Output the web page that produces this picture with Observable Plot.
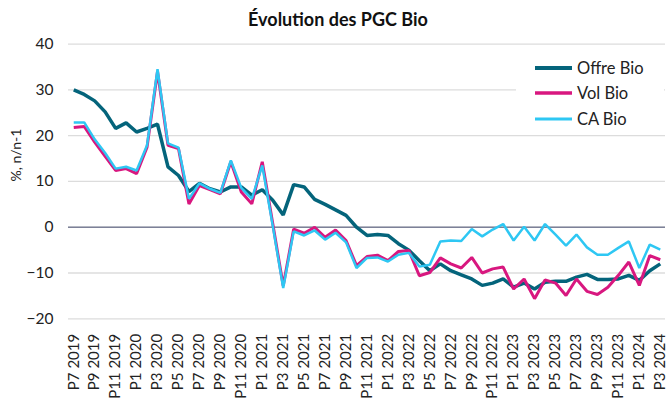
<!DOCTYPE html>
<html><head><meta charset="utf-8">
<script src="https://cdn.jsdelivr.net/npm/d3@7"></script>
<script src="https://cdn.jsdelivr.net/npm/@observablehq/plot@0.6"></script>
<style>
body{margin:0;background:#fff;font-family:Lato,sans-serif;}
#wrap{position:relative;width:668px;height:403px;overflow:hidden;}
#chart{position:absolute;left:0;top:0;}
#title{position:absolute;top:8px;left:0;width:676px;text-align:center;font-weight:bold;font-size:18px;color:#111;}
#legend{position:absolute;left:516px;top:52px;width:148px;height:78px;background:#fff;}
.row{position:absolute;left:0;height:25px;display:flex;align-items:center;font-size:16.5px;color:#222;}
.sw{width:37px;margin-left:19px;margin-right:5px;}
</style></head>
<body>
<div id="wrap">
  <div id="chart"></div>
  <div id="title">Évolution des PGC Bio</div>
  <div id="legend"></div>
</div>
<script>
const periods = [
 "P7 2019","P8 2019","P9 2019","P10 2019","P11 2019","P12 2019",
 "P1 2020","P2 2020","P3 2020","P4 2020","P5 2020","P6 2020","P7 2020","P8 2020","P9 2020","P10 2020","P11 2020","P12 2020",
 "P1 2021","P2 2021","P3 2021","P4 2021","P5 2021","P6 2021","P7 2021","P8 2021","P9 2021","P10 2021","P11 2021","P12 2021",
 "P1 2022","P2 2022","P3 2022","P4 2022","P5 2022","P6 2022","P7 2022","P8 2022","P9 2022","P10 2022","P11 2022","P12 2022",
 "P1 2023","P2 2023","P3 2023","P4 2023","P5 2023","P6 2023","P7 2023","P8 2023","P9 2023","P10 2023","P11 2023","P12 2023",
 "P1 2024","P2 2024","P3 2024"];
const offre = [30.0,29.0,27.6,25.2,21.6,22.8,20.8,21.6,22.5,13.2,11.3,7.8,9.6,8.4,7.7,8.8,8.8,7.0,8.2,5.9,
 2.7,9.3,8.8,6.1,5.0,3.8,2.6,0.0,-1.8,-1.6,-1.8,-3.6,-5.0,-7.3,-9.5,-8.0,-9.5,-10.4,-11.3,-12.7,
 -12.2,-11.3,-13.1,-12.2,-13.5,-12.0,-11.8,-11.8,-10.9,-10.3,-11.4,-11.4,-11.3,-10.5,-11.6,-9.5,-8.0];
const vol = [21.8,22.0,18.6,15.5,12.4,12.8,11.7,17.5,34.0,17.9,17.2,5.1,9.1,8.2,7.3,14.3,7.7,5.1,14.3,0.8,
 -12.8,-0.4,-1.3,0.0,-2.2,-0.6,-2.9,-8.4,-6.4,-6.1,-7.3,-5.3,-5.1,-10.6,-9.9,-6.7,-8.0,-8.9,-6.6,-10.0,
 -9.1,-8.7,-13.5,-11.3,-15.6,-11.5,-12.2,-14.9,-11.3,-14.0,-14.7,-13.1,-10.5,-7.6,-12.7,-6.2,-7.1];
const ca = [22.9,22.9,19.2,16.2,12.8,13.2,12.4,17.9,34.5,18.3,17.4,6.2,9.6,8.4,7.5,14.6,8.6,6.2,13.5,0.3,
 -13.3,-0.9,-1.8,-0.7,-2.7,-1.2,-3.3,-8.9,-6.7,-6.6,-7.5,-6.0,-5.6,-8.6,-8.2,-3.1,-2.9,-3.0,-0.4,-2.0,
 -0.5,0.7,-2.9,0.1,-2.9,0.7,-1.6,-4.0,-1.6,-4.4,-6.0,-6.0,-4.5,-3.1,-8.9,-3.8,-4.9];
const yTicks = [-20,-10,0,10,20,30,40];
const seriesNames = ["Offre Bio","Vol Bio","CA Bio"];
const seriesColors = ["#04647b","#d8177f","#2ec7f3"];
const seriesWidths = [3.5,3,2.5];
const xTicks = periods.filter((d,i)=>i%2===0);

const seriesValues = [offre, vol, ca];
const marks = [
  Plot.gridY(yTicks,{stroke:"#dcdcdc",strokeOpacity:1,strokeWidth:1.3}),
  Plot.ruleY([0],{stroke:"#7d8198",strokeWidth:1.6}),
  Plot.axisY(yTicks,{tickSize:0,tickPadding:15,fontSize:15.5,label:null,fill:"#222"}),
  Plot.axisX(xTicks,{tickSize:0,tickPadding:15,tickRotate:-90,fontSize:15,label:null,fill:"#222"}),
  Plot.text(["%, n/n-1"],{frameAnchor:"left",dx:-52,rotate:-90,fontSize:14,fill:"#222"})
];
seriesNames.forEach((name,k)=>{
  const rows = periods.map((p,i)=>({p, v:seriesValues[k][i]}));
  marks.push(Plot.line(rows,{x:"p",y:"v",stroke:seriesColors[k],strokeWidth:seriesWidths[k],strokeLinejoin:"miter",strokeLinecap:"butt"}));
});

const chart = Plot.plot({
  width:668,height:403,
  marginTop:43.6,marginBottom:84.7,marginLeft:68,marginRight:3,
  style:{fontFamily:"Lato, sans-serif",background:"transparent",color:"#222"},
  x:{type:"point",domain:periods,padding:0.5,round:false,axis:null},
  y:{domain:[-20,40],axis:null},
  marks
});
document.getElementById("chart").appendChild(chart);

const leg = document.getElementById("legend");
seriesNames.forEach((name,k)=>{
  const row = document.createElement("div");
  row.className="row";
  row.style.top = (3+k*25.5)+"px";
  row.innerHTML = `<svg class="sw" width="37" height="6"><line x1="0" x2="37" y1="3" y2="3" stroke="${seriesColors[k]}" stroke-width="${seriesWidths[k]+0.5}"/></svg><span>${name}</span>`;
  leg.appendChild(row);
});
</script>
</body></html>
